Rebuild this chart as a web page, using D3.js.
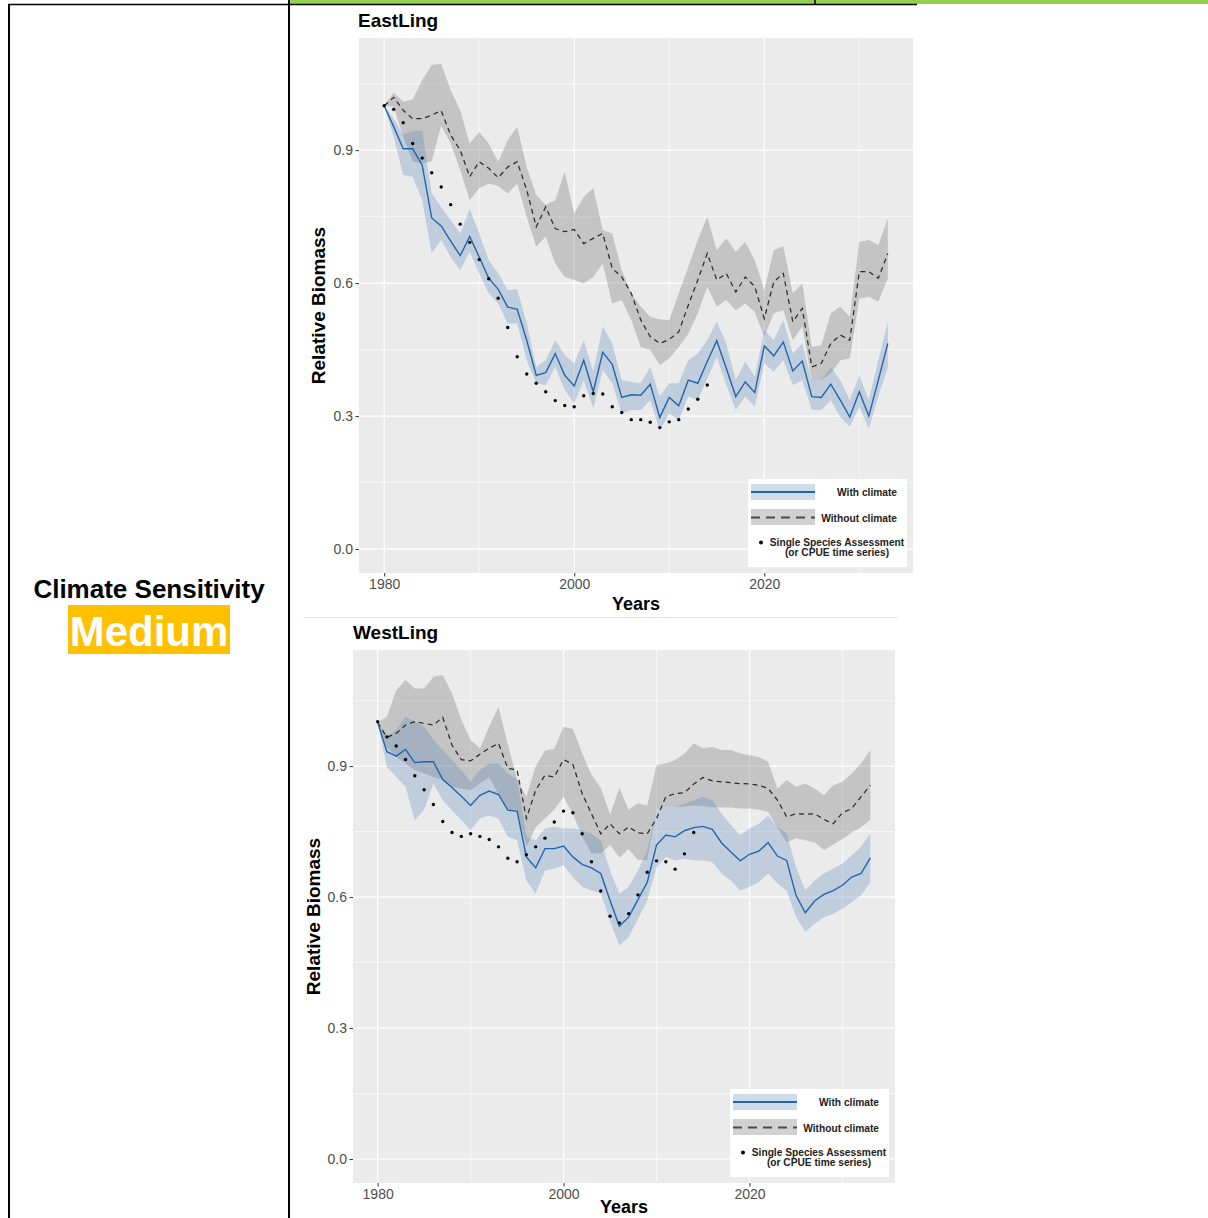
<!DOCTYPE html>
<html>
<head>
<meta charset="utf-8">
<script src="https://cdn.jsdelivr.net/npm/d3@7"></script>
<style>
  html, body { margin: 0; padding: 0; background: #fff; }
  svg { display: block; font-family: "Liberation Sans", Arial, sans-serif; }
</style>
</head>
<body>
<svg id="page" width="1208" height="1218"></svg>
<script>
// ---- categories and tick labels ----
const years = [1980,1981,1982,1983,1984,1985,1986,1987,1988,1989,1990,1991,1992,1993,1994,1995,1996,1997,1998,1999,
  2000,2001,2002,2003,2004,2005,2006,2007,2008,2009,2010,2011,2012,2013,2014,2015,2016,2017,2018,2019,
  2020,2021,2022,2023,2024,2025,2026,2027,2028,2029,2030,2031,2032,2033];
const ssaYears = years.slice(0, 35);
const xTickLabels = ["1980", "2000", "2020"];
const xMajor = [1980, 2000, 2020];
const xMinor = [1990, 2010, 2030];
const yMajor = [0, 0.3, 0.6, 0.9];
const yMinor = [0.15, 0.45, 0.75, 1.05];
const legendLabels = ["With climate", "Without climate", "Single Species Assessment", "(or CPUE time series)"];

// ---- EastLing ----
const eastWith = [1.000,0.953,0.903,0.903,0.866,0.747,0.729,0.695,0.662,0.705,0.659,0.611,0.586,0.546,0.541,0.471,0.392,0.398,0.441,0.392,
  0.368,0.426,0.355,0.444,0.417,0.342,0.348,0.347,0.372,0.297,0.342,0.323,0.381,0.374,0.423,0.470,0.408,0.344,0.377,0.353,
  0.458,0.436,0.467,0.402,0.424,0.344,0.342,0.372,0.336,0.298,0.355,0.300,0.381,0.464];
const eastWithHi = [1.000,0.971,0.934,0.944,0.944,0.802,0.772,0.742,0.712,0.768,0.712,0.652,0.622,0.584,0.586,0.509,0.411,0.426,0.471,0.438,
  0.419,0.471,0.400,0.502,0.464,0.381,0.377,0.374,0.411,0.344,0.374,0.374,0.426,0.441,0.471,0.513,0.464,0.381,0.423,0.389,
  0.494,0.471,0.517,0.441,0.464,0.381,0.381,0.411,0.381,0.336,0.392,0.336,0.426,0.513];
const eastWithLo = [1.000,0.930,0.844,0.840,0.787,0.667,0.697,0.659,0.629,0.671,0.622,0.577,0.554,0.509,0.509,0.426,0.374,0.370,0.411,0.359,
  0.329,0.381,0.317,0.404,0.374,0.306,0.314,0.314,0.336,0.268,0.306,0.291,0.344,0.336,0.385,0.434,0.370,0.314,0.344,0.321,
  0.419,0.400,0.426,0.370,0.381,0.314,0.314,0.336,0.298,0.276,0.321,0.272,0.344,0.411];
const eastWithout = [1.000,1.019,0.990,0.971,0.971,0.979,0.989,0.934,0.900,0.840,0.874,0.859,0.838,0.862,0.874,0.810,0.727,0.772,0.723,0.716,
  0.721,0.689,0.701,0.712,0.633,0.614,0.577,0.517,0.479,0.464,0.473,0.490,0.550,0.607,0.667,0.607,0.622,0.580,0.614,0.592,
  0.520,0.603,0.622,0.513,0.543,0.411,0.419,0.464,0.483,0.471,0.626,0.626,0.611,0.667];
const eastWithoutHi = [1.000,1.030,1.009,1.014,1.058,1.092,1.095,1.035,0.990,0.915,0.941,0.915,0.874,0.923,0.953,0.862,0.799,0.776,0.787,0.851,
  0.757,0.795,0.814,0.720,0.712,0.629,0.577,0.547,0.524,0.518,0.517,0.577,0.637,0.697,0.750,0.674,0.701,0.671,0.693,0.652,
  0.584,0.674,0.683,0.577,0.599,0.456,0.460,0.532,0.547,0.524,0.693,0.697,0.686,0.746];
const eastWithoutLo = [1.000,0.998,0.930,0.875,0.870,0.875,0.955,0.915,0.855,0.787,0.814,0.825,0.819,0.802,0.825,0.750,0.682,0.705,0.644,0.614,
  0.607,0.599,0.614,0.644,0.554,0.562,0.517,0.456,0.449,0.415,0.430,0.456,0.486,0.532,0.592,0.547,0.562,0.539,0.554,0.535,
  0.479,0.532,0.539,0.471,0.502,0.381,0.381,0.396,0.426,0.430,0.565,0.569,0.558,0.611];
const eastSSA = [1.000,0.992,0.962,0.915,0.882,0.849,0.817,0.777,0.733,0.692,0.653,0.610,0.566,0.500,0.434,0.395,0.374,0.355,0.335,0.324,
  0.321,0.346,0.351,0.350,0.321,0.308,0.292,0.292,0.286,0.274,0.287,0.292,0.316,0.338,0.370];

// ---- WestLing ----
const westWith = [1.000,0.933,0.923,0.938,0.908,0.910,0.910,0.869,0.851,0.831,0.810,0.833,0.843,0.835,0.799,0.797,0.692,0.667,0.711,0.711,
  0.717,0.692,0.675,0.667,0.654,0.592,0.533,0.554,0.594,0.634,0.719,0.742,0.738,0.752,0.759,0.762,0.755,0.724,0.703,0.683,
  0.698,0.705,0.725,0.694,0.684,0.604,0.564,0.591,0.606,0.615,0.627,0.646,0.654,0.690];
const westWithHi = [1.000,0.967,0.983,1.013,1.002,0.990,0.960,0.937,0.914,0.891,0.864,0.891,0.906,0.906,0.883,0.870,0.738,0.730,0.757,0.761,
  0.757,0.757,0.753,0.745,0.730,0.661,0.608,0.623,0.661,0.707,0.799,0.807,0.807,0.814,0.822,0.830,0.822,0.791,0.765,0.742,
  0.757,0.768,0.787,0.761,0.745,0.669,0.615,0.638,0.654,0.665,0.677,0.696,0.715,0.745];
const westWithLo = [1.000,0.898,0.875,0.853,0.776,0.800,0.860,0.822,0.799,0.776,0.753,0.780,0.787,0.780,0.738,0.730,0.638,0.608,0.661,0.665,
  0.673,0.646,0.623,0.615,0.608,0.546,0.489,0.508,0.550,0.592,0.669,0.692,0.684,0.688,0.684,0.684,0.680,0.654,0.638,0.615,
  0.623,0.634,0.654,0.631,0.615,0.554,0.520,0.539,0.554,0.562,0.573,0.589,0.604,0.634];
const westWithout = [1.000,0.966,0.975,0.994,1.002,0.998,0.994,1.012,0.948,0.915,0.912,0.927,0.941,0.952,0.895,0.891,0.780,0.845,0.879,0.875,
  0.915,0.904,0.837,0.791,0.745,0.768,0.745,0.761,0.747,0.745,0.780,0.830,0.837,0.839,0.859,0.874,0.866,0.864,0.862,0.860,
  0.859,0.856,0.849,0.822,0.784,0.791,0.790,0.791,0.778,0.768,0.793,0.803,0.830,0.856];
const westWithoutHi = [1.000,1.013,1.074,1.097,1.078,1.078,1.105,1.109,1.067,1.006,0.960,0.941,0.990,1.036,0.950,0.870,0.830,0.900,0.935,0.940,
  0.990,0.985,0.930,0.880,0.850,0.790,0.850,0.800,0.815,0.810,0.902,0.906,0.914,0.929,0.952,0.941,0.944,0.937,0.937,0.929,
  0.925,0.921,0.910,0.849,0.868,0.853,0.860,0.849,0.833,0.856,0.864,0.883,0.906,0.937];
const westWithoutLo = [1.000,0.944,0.921,0.906,0.891,0.883,0.875,0.868,0.853,0.849,0.845,0.860,0.875,0.835,0.800,0.800,0.715,0.760,0.780,0.800,
  0.830,0.790,0.740,0.700,0.700,0.720,0.690,0.710,0.685,0.685,0.800,0.807,0.807,0.807,0.810,0.808,0.806,0.805,0.805,0.803,
  0.803,0.800,0.795,0.760,0.725,0.735,0.730,0.725,0.708,0.720,0.733,0.748,0.760,0.777];
const westSSA = [1.002,0.967,0.946,0.915,0.878,0.846,0.812,0.773,0.748,0.739,0.745,0.739,0.732,0.715,0.689,0.681,0.697,0.715,0.735,0.772,
  0.797,0.793,0.745,0.681,0.614,0.556,0.541,0.562,0.605,0.657,0.683,0.681,0.664,0.699,0.748];

// ---- layout and styling ----
const xDomain = [1977.35, 2035.65];
const BLUE = "#2166ac";
const BLUE_FILL = "rgba(74,127,181,0.27)";
const GRAY_FILL = "rgba(128,128,128,0.36)";
const TICK_TEXT = "#4d4d4d";

const svg = d3.select("#page");

// table frame
svg.append("rect").attr("x", 290).attr("y", 0).attr("width", 918).attr("height", 4).attr("fill", "#92d050");
svg.append("line").attr("x1", 8).attr("x2", 917).attr("y1", 4.5).attr("y2", 4.5).attr("stroke", "#000").attr("stroke-width", 1.5);
svg.append("line").attr("x1", 815).attr("x2", 815).attr("y1", 0).attr("y2", 4.5).attr("stroke", "#000").attr("stroke-width", 1.5);
svg.append("line").attr("x1", 9).attr("x2", 9).attr("y1", 4).attr("y2", 1218).attr("stroke", "#000").attr("stroke-width", 2);
svg.append("line").attr("x1", 289).attr("x2", 289).attr("y1", 0).attr("y2", 1218).attr("stroke", "#000").attr("stroke-width", 2);
svg.append("line").attr("x1", 303).attr("x2", 898).attr("y1", 617.5).attr("y2", 617.5).attr("stroke", "#e4e4ec").attr("stroke-width", 1);

// left cell
svg.append("text").attr("x", 149).attr("y", 598).attr("text-anchor", "middle")
  .attr("font-size", 26).attr("font-weight", "bold").attr("fill", "#000").text("Climate Sensitivity");
svg.append("rect").attr("x", 68).attr("y", 605).attr("width", 162).attr("height", 49).attr("fill", "#ffc000");
svg.append("text").attr("x", 149).attr("y", 646).attr("text-anchor", "middle")
  .attr("font-size", 42).attr("font-weight", "bold").attr("fill", "#fff").text("Medium");

const panels = [
  { id: "east", title: "EastLing", left: 359, right: 913, top: 38, bottom: 573, yDomain: [-0.054, 1.153],
    titleX: 358, titleY: 27, yLabelX: 324.5, xLabelY: 610,
    withC: eastWith, withLo: eastWithLo, withHi: eastWithHi,
    without: eastWithout, withoutLo: eastWithoutLo, withoutHi: eastWithoutHi, ssa: eastSSA },
  { id: "west", title: "WestLing", left: 353, right: 895, top: 650, bottom: 1183, yDomain: [-0.055, 1.166],
    titleX: 353, titleY: 639, yLabelX: 319.5, xLabelY: 1213,
    withC: westWith, withLo: westWithLo, withHi: westWithHi,
    without: westWithout, withoutLo: westWithoutLo, withoutHi: westWithoutHi, ssa: westSSA }
];

panels.forEach(p => {
  const x = d3.scaleLinear().domain(xDomain).range([p.left, p.right]);
  const y = d3.scaleLinear().domain(p.yDomain).range([p.bottom, p.top]);
  const g = svg.append("g");

  // panel background and grid
  g.append("rect").attr("x", p.left).attr("y", p.top)
    .attr("width", p.right - p.left).attr("height", p.bottom - p.top).attr("fill", "#ebebeb");
  const grid = g.append("g").attr("stroke", "#fff");
  grid.selectAll(".vmin").data(xMinor).join("line")
    .attr("x1", d => x(d)).attr("x2", d => x(d)).attr("y1", p.top).attr("y2", p.bottom).attr("stroke-width", 0.6);
  grid.selectAll(".hmin").data(yMinor).join("line")
    .attr("y1", d => y(d)).attr("y2", d => y(d)).attr("x1", p.left).attr("x2", p.right).attr("stroke-width", 0.6);
  grid.selectAll(".vmaj").data(xMajor).join("line")
    .attr("x1", d => x(d)).attr("x2", d => x(d)).attr("y1", p.top).attr("y2", p.bottom).attr("stroke-width", 1.2);
  grid.selectAll(".hmaj").data(yMajor).join("line")
    .attr("y1", d => y(d)).attr("y2", d => y(d)).attr("x1", p.left).attr("x2", p.right).attr("stroke-width", 1.2);

  // clip for the data layers
  svg.append("clipPath").attr("id", "clip-" + p.id).append("rect")
    .attr("x", p.left).attr("y", p.top).attr("width", p.right - p.left).attr("height", p.bottom - p.top);
  const data = g.append("g").attr("clip-path", `url(#clip-${p.id})`);

  const rows = years.map((yr, i) => ({
    yr, w: p.withC[i], wLo: p.withLo[i], wHi: p.withHi[i],
    n: p.without[i], nLo: p.withoutLo[i], nHi: p.withoutHi[i]
  }));

  // uncertainty ribbons
  data.append("path").datum(rows).attr("fill", GRAY_FILL)
    .attr("d", d3.area().x(d => x(d.yr)).y0(d => y(d.nLo)).y1(d => y(d.nHi)));
  data.append("path").datum(rows).attr("fill", BLUE_FILL)
    .attr("d", d3.area().x(d => x(d.yr)).y0(d => y(d.wLo)).y1(d => y(d.wHi)));

  // model trajectories
  data.append("path").datum(rows).attr("fill", "none").attr("stroke", "#2b2b2b")
    .attr("stroke-width", 1.25).attr("stroke-dasharray", "5,4")
    .attr("d", d3.line().x(d => x(d.yr)).y(d => y(d.n)));
  data.append("path").datum(rows).attr("fill", "none").attr("stroke", BLUE)
    .attr("stroke-width", 1.4)
    .attr("d", d3.line().x(d => x(d.yr)).y(d => y(d.w)));

  // single species assessment points
  data.selectAll(".ssa").data(ssaYears.map((yr, i) => ({ yr, v: p.ssa[i] }))).join("circle")
    .attr("cx", d => x(d.yr)).attr("cy", d => y(d.v)).attr("r", 1.7).attr("fill", "#000");

  // axes
  const yAxis = g.append("g").attr("transform", `translate(${p.left},0)`)
    .call(d3.axisLeft(y).tickValues(yMajor).tickFormat(d3.format(".1f")).tickSize(3.5).tickPadding(2.5));
  const xAxis = g.append("g").attr("transform", `translate(0,${p.bottom})`)
    .call(d3.axisBottom(x).tickValues(xMajor).tickFormat((d, i) => xTickLabels[i]).tickSize(3.5).tickPadding(2.5));
  [yAxis, xAxis].forEach(a => {
    a.select(".domain").remove();
    a.selectAll(".tick line").attr("stroke", "#333").attr("stroke-width", 1);
    a.selectAll(".tick text").attr("fill", TICK_TEXT).attr("font-size", 14)
      .attr("font-family", "'Liberation Sans', Arial, sans-serif");
  });

  // titles
  g.append("text").attr("x", p.titleX).attr("y", p.titleY).attr("font-size", 19).attr("font-weight", "bold")
    .attr("fill", "#000").text(p.title);
  g.append("text").attr("transform", `translate(${p.yLabelX},${(p.top + p.bottom) / 2}) rotate(-90)`)
    .attr("text-anchor", "middle").attr("font-size", 19).attr("font-weight", "bold").attr("fill", "#000")
    .text("Relative Biomass");
  g.append("text").attr("x", (p.left + p.right) / 2).attr("y", p.xLabelY).attr("text-anchor", "middle")
    .attr("font-size", 18).attr("font-weight", "bold").attr("fill", "#000").text("Years");

  // legend
  const L = p.right - 165, T = p.bottom - 94;
  const lg = g.append("g").attr("transform", `translate(${L},${T})`);
  lg.append("rect").attr("width", 159).attr("height", 88).attr("fill", "#fff");
  lg.append("rect").attr("x", 3).attr("y", 5).attr("width", 64).attr("height", 16).attr("fill", BLUE_FILL);
  lg.append("line").attr("x1", 3).attr("x2", 67).attr("y1", 13).attr("y2", 13)
    .attr("stroke", BLUE).attr("stroke-width", 2);
  lg.append("rect").attr("x", 3).attr("y", 30).attr("width", 64).attr("height", 16).attr("fill", GRAY_FILL);
  lg.append("line").attr("x1", 3).attr("x2", 67).attr("y1", 38.5).attr("y2", 38.5)
    .attr("stroke", "#4a4a4a").attr("stroke-width", 2).attr("stroke-dasharray", "9,6");
  lg.append("circle").attr("cx", 13).attr("cy", 63.5).attr("r", 2).attr("fill", "#000");
  const lt = lg.append("g").attr("font-size", 10.2).attr("font-weight", "bold").attr("fill", "#222");
  lt.append("text").attr("x", 149).attr("y", 17).attr("text-anchor", "end").text(legendLabels[0]);
  lt.append("text").attr("x", 149).attr("y", 42.5).attr("text-anchor", "end").text(legendLabels[1]);
  lt.append("text").attr("x", 89).attr("y", 66.5).attr("text-anchor", "middle").text(legendLabels[2]);
  lt.append("text").attr("x", 89).attr("y", 77).attr("text-anchor", "middle").text(legendLabels[3]);
});
</script>
</body>
</html>
